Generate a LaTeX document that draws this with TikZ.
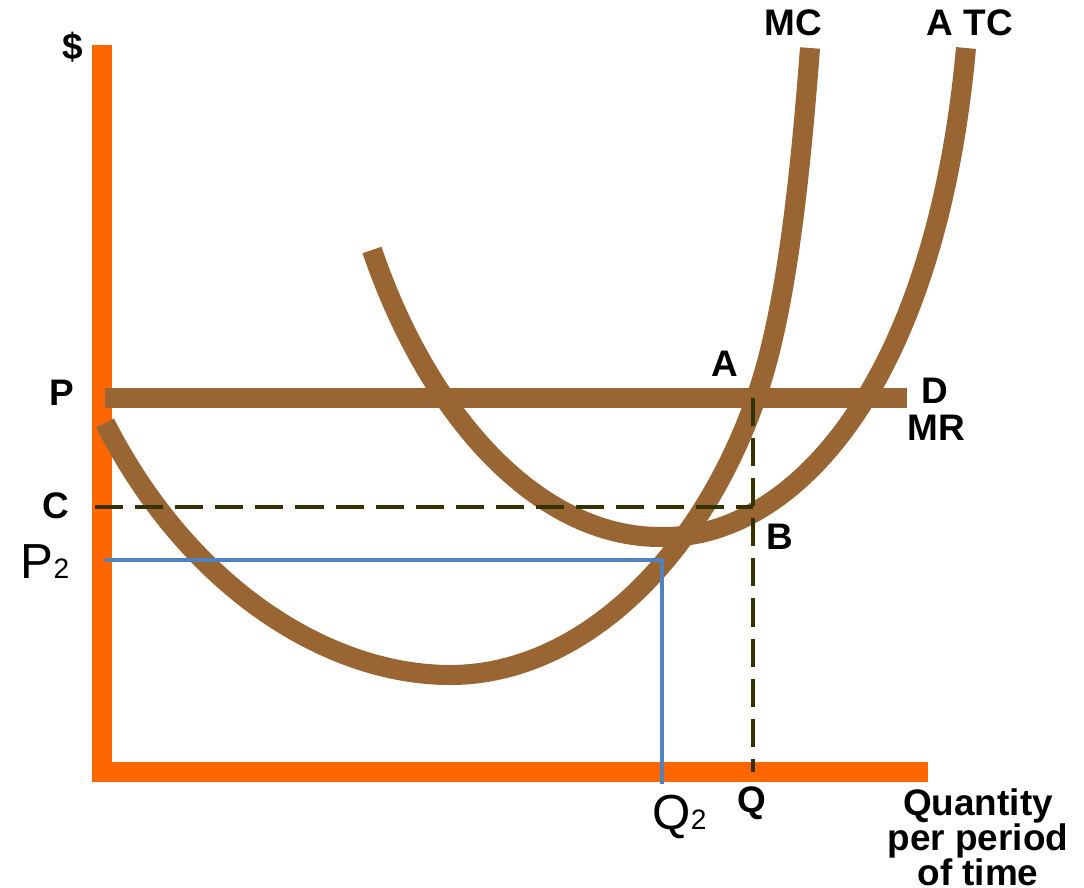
\documentclass[tikz,border=0pt]{standalone}
\usepackage{fontspec}
\setmainfont{Liberation Sans}
\definecolor{axisorange}{RGB}{255,102,0}
\definecolor{costbrown}{RGB}{153,102,51}
\definecolor{guideolive}{RGB}{51,51,0}
\definecolor{lineblue}{RGB}{79,129,189}
\begin{document}
\begin{tikzpicture}[x=0.01cm,y=-0.01cm,line join=round,
	lbl/.style={font=\bfseries\fontsize{10.5}{12}\selectfont,inner sep=0pt},
	big/.style={font=\fontsize{14}{14}\selectfont,inner sep=0pt,anchor=base west},
	cost/.style={costbrown,line width=5.7pt},
	guide/.style={guideolive,line width=1.4pt,dash pattern=on 8pt off 3.4pt}]
	
	\useasboundingbox (0,0) rectangle (1084,888);
	\draw[axisorange,line width=5.7pt,line join=miter] (102,45)--(102,772)--(928,772);
	
	% MC, ATC and the price line
	\draw[cost] (105,423) .. controls (190,590) and (330,675) .. (450,675)
		.. controls (580,675) and (700,560) .. (757,395)
		.. controls (786,311) and (800,180) .. (810,48);
	\draw[cost] (372,250) .. controls (430,420) and (540,537) .. (660,537)
		.. controls (790,540) and (935,390) .. (966,48);
	\draw[cost] (105,398)--(907,398);
	
	\coordinate (A) at (753,398);
	\coordinate (B) at (753,507);
	\coordinate (Q) at (753,772);
	\coordinate (C) at (95,507);
	\draw[guide] (A)--(Q) (C)--(B);
	
	\coordinate (P2) at (105,560);
	\coordinate (E) at (662,560);
	\coordinate (Q2) at (662,784);
	\draw[lineblue,line width=0.9pt] (P2)--(E)--(Q2);
	
	\node[lbl] (dollar) at (73,47) {\$};
	\node[lbl] (mclab) at (793,23) {MC};
	\node[lbl] (atclab) at (970,23) {A TC};
	\node[lbl] (alab) at (725,364) {A};
	\node[lbl] (dlab) at (935,391) {D};
	\node[lbl] (mrlab) at (936,428) {MR};
	\node[lbl] (plab) at (62,393) {P};
	\node[lbl] (clab) at (56,506) {C};
	\node[lbl] (blab) at (780,537) {B};
	\node[lbl] (qlab) at (752,803) {Q};
	\node[lbl,align=center,font=\bfseries\fontsize{10.5}{10}\selectfont] (xlab) at (978,837) {Quantity\\per period\\of time};
	\node[big] (p2lab) at (20,578) {P{\fontsize{8}{8}\selectfont 2}};
	\node[big] (q2lab) at (652,830) {Q{\fontsize{8}{8}\selectfont 2}};
\end{tikzpicture}
\end{document}
